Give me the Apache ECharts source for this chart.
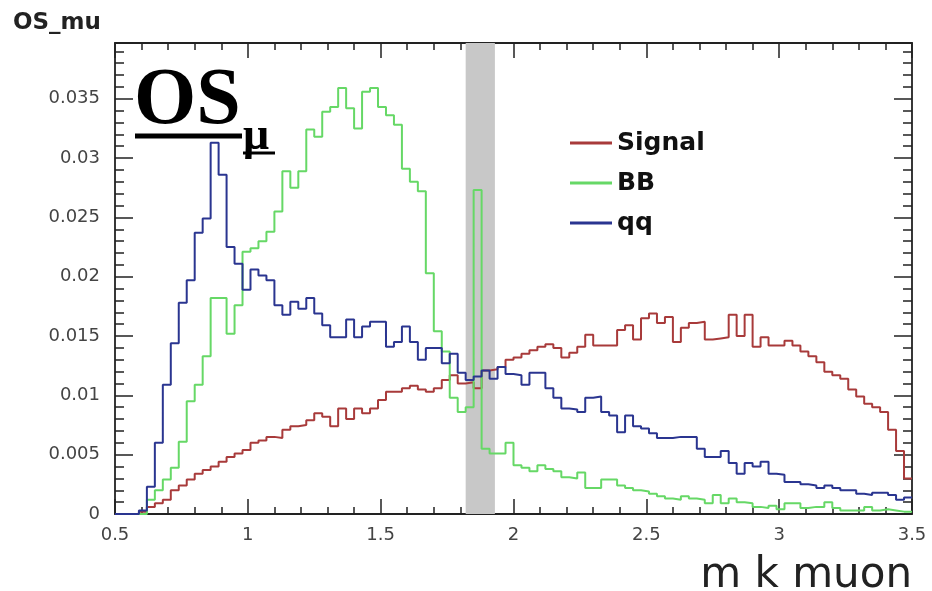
<!DOCTYPE html>
<html>
<head>
<meta charset="utf-8">
<script src="https://cdn.jsdelivr.net/npm/echarts@6/dist/echarts.min.js"></script>
<style>
html,body{margin:0;padding:0;background:#fff;}
#chart{width:932px;height:591px;}
</style>
</head>
<body>
<div id="chart"></div>
<script>
// ---- data ----
const histMin = 0.5;
const binWidth = 0.03;
const nBins = 100;
const xTickLabels = ['0.5','1','1.5','2','2.5','3','3.5'];
const yTickLabels = ['0','0.005','0.01','0.015','0.02','0.025','0.03','0.035'];
const seriesNames = ['Signal','BB','qq'];
const massWindow = [1.82, 1.93];

const signal = [
0,0,0,0.0002,0.0006,0.0009,0.0012,0.002,0.0024,0.0029,
0.0034,0.0037,0.004,0.0044,0.0048,0.0051,0.0054,0.006,0.0062,0.0065,
0.0064,0.0071,0.0074,0.0075,0.0079,0.0085,0.0082,0.0074,0.0089,0.008,
0.0089,0.0085,0.0089,0.0096,0.0103,0.0103,0.0106,0.0108,0.0105,0.0103,
0.0106,0.0113,0.0117,0.011,0.0111,0.0106,0.0121,0.0122,0.0124,0.013,
0.0132,0.0135,0.0138,0.0141,0.0143,0.014,0.0132,0.0136,0.0141,0.0151,
0.0142,0.0142,0.0142,0.0155,0.0159,0.0147,0.0165,0.0169,0.0161,0.0166,
0.0145,0.0157,0.0161,0.0162,0.0147,0.0148,0.0149,0.0168,0.015,0.0168,
0.0141,0.0149,0.0142,0.0142,0.0146,0.0142,0.0137,0.0133,0.0128,0.012,
0.0117,0.0114,0.0105,0.0099,0.0093,0.009,0.0086,0.0071,0.0053,0.003
];
const bb = [
0,0,0,0,0.0012,0.002,0.0029,0.0039,0.0061,0.0095,
0.0109,0.0133,0.0182,0.0182,0.0152,0.0176,0.0221,0.0224,0.023,0.0238,
0.0255,0.0289,0.0275,0.0289,0.0324,0.0318,0.0339,0.0343,0.0359,0.0342,
0.0325,0.0356,0.0359,0.0343,0.0336,0.0328,0.0291,0.028,0.0272,0.0203,
0.0154,0.0137,0.0098,0.0086,0.009,0.0273,0.0055,0.0051,0.0051,0.006,
0.0041,0.0039,0.0036,0.0041,0.0038,0.0036,0.0031,0.003,0.0035,0.0022,
0.0022,0.0029,0.0029,0.0024,0.0022,0.002,0.0019,0.0017,0.0015,0.0013,
0.0012,0.0015,0.0013,0.0012,0.0009,0.0016,0.0009,0.0013,0.001,0.0009,
0.0006,0.0005,0.0007,0.0004,0.0009,0.0009,0.0005,0.0006,0.0006,0.001,
0.0005,0.0003,0.0003,0.0003,0.0006,0.0003,0.0004,0.0003,0.0002,0.0002
];
const qq = [
0,0,0,0.0003,0.0023,0.006,0.0109,0.0144,0.0178,0.0197,
0.0237,0.0249,0.0313,0.0286,0.0225,0.0211,0.0189,0.0206,0.0201,0.0197,
0.0176,0.0168,0.0179,0.0173,0.0182,0.0169,0.0159,0.0149,0.0149,0.0164,
0.0149,0.0158,0.0162,0.0162,0.0141,0.0145,0.0158,0.0145,0.013,0.014,
0.014,0.0127,0.0135,0.0119,0.0113,0.0116,0.0121,0.0114,0.0124,0.0118,
0.0117,0.0109,0.0119,0.0119,0.0106,0.0098,0.0089,0.0088,0.0086,0.0098,
0.0099,0.0086,0.0083,0.0069,0.0083,0.0074,0.0072,0.0068,0.0064,0.0064,
0.0065,0.0065,0.0065,0.0055,0.0048,0.0048,0.0053,0.0043,0.0034,0.0043,
0.004,0.0044,0.0034,0.0033,0.0027,0.0027,0.0025,0.0024,0.0022,0.0024,
0.0022,0.002,0.002,0.0017,0.0016,0.0018,0.0018,0.0016,0.0012,0.0014
];
const seriesValues = [signal, bb, qq];
const seriesColors = ['#a83a3a', '#66d866', '#2a3590'];

// bin lower edges (x categories)
const binEdges = [];
for (let i = 0; i <= nBins; i++) binEdges.push(+(histMin + i * binWidth).toFixed(2));

function histPoints(vals) {
  const pts = vals.map((v, i) => [binEdges[i], v]);
  pts.push([binEdges[nBins], vals[vals.length - 1]]);
  return pts;
}

const chart = echarts.init(document.getElementById('chart'), null, {renderer: 'canvas'});

const axisFont = 'DejaVu Sans';
const frameColor = '#222';
const xMin = +xTickLabels[0], xMax = +xTickLabels[xTickLabels.length - 1];
const xStep = +xTickLabels[1] - +xTickLabels[0];
const yStep = +yTickLabels[1];

function xAxisCfg(pos, showLabel) {
  return {
    type: 'value', position: pos, min: xMin, max: xMax, interval: xStep,
    axisLine: {show: true, onZero: false, lineStyle: {color: frameColor, width: 1.8}},
    axisTick: {show: true, inside: true, length: 15, lineStyle: {color: frameColor, width: 1.5}},
    minorTick: {show: true, splitNumber: 5, length: 7, lineStyle: {color: frameColor, width: 1.5}},
    splitLine: {show: false},
    axisLabel: {show: showLabel, margin: 12, color: '#444', fontFamily: axisFont, fontSize: 18,
      formatter: v => String(+v.toFixed(2))}
  };
}
function yAxisCfg(pos, showLabel) {
  return {
    type: 'value', position: pos, min: 0, max: 0.0397, interval: yStep,
    axisLine: {show: true, onZero: false, lineStyle: {color: frameColor, width: 1.8}},
    axisTick: {show: true, inside: true, length: 18, lineStyle: {color: frameColor, width: 1.5}},
    minorTick: {show: true, splitNumber: 5, length: 9, lineStyle: {color: frameColor, width: 1.5}},
    splitLine: {show: false},
    axisLabel: {show: showLabel, margin: 15, color: '#444', fontFamily: axisFont, fontSize: 18,
      showMaxLabel: false,
      formatter: v => { const s = String(+v.toFixed(3)); return yTickLabels.indexOf(s) >= 0 ? s : ''; }}
  };
}

const series = [{
  name: '_window', type: 'line', data: [], z: 1, silent: true,
  markArea: {silent: true, itemStyle: {color: '#c8c8c8', opacity: 1},
    data: [[{xAxis: massWindow[0]}, {xAxis: massWindow[1]}]]}
}];
seriesNames.forEach((n, k) => {
  series.push({
    name: n, type: 'line', step: 'end', showSymbol: false, symbol: 'none',
    data: histPoints(seriesValues[k]), z: 3 + k,
    lineStyle: {color: seriesColors[k], width: 2},
    itemStyle: {color: seriesColors[k]}
  });
});

chart.setOption({
  animation: false,
  backgroundColor: '#fff',
  grid: {left: 115, right: 20, top: 43, bottom: 77, containLabel: false},
  xAxis: [xAxisCfg('bottom', true), xAxisCfg('top', false)],
  yAxis: [yAxisCfg('left', true), yAxisCfg('right', false)],
  legend: {
    data: seriesNames, orient: 'vertical', left: 565, top: 125,
    icon: 'rect', itemWidth: 42, itemHeight: 3, itemGap: 14,
    textStyle: {fontFamily: 'DejaVu Sans', fontWeight: 'bold', fontSize: 25, color: '#111', lineHeight: 26}
  },
  graphic: [
    {type: 'text', left: 13, top: 12, style: {text: 'OS_mu', font: 'bold 23px "DejaVu Sans"', fill: '#222'}},
    {type: 'text', x: 134, y: 62, style: {text: 'OS', font: 'bold 80px "Liberation Serif"', fill: '#000', verticalAlign: 'top'}},
    {type: 'text', x: 243, y: 114, style: {text: 'μ', font: 'bold 46px "Liberation Serif"', fill: '#000', verticalAlign: 'top'}},
    {type: 'line', shape: {x1: 135, y1: 136, x2: 242, y2: 136}, style: {stroke: '#000', lineWidth: 5}},
    {type: 'line', shape: {x1: 243, y1: 153, x2: 275, y2: 153}, style: {stroke: '#000', lineWidth: 3}},
    {type: 'text', x: 912, y: 576, style: {text: 'm k muon', font: '42px "DejaVu Sans"', fill: '#222', align: 'right', verticalAlign: 'middle'}}
  ],
  series: series
});
</script>
</body>
</html>
